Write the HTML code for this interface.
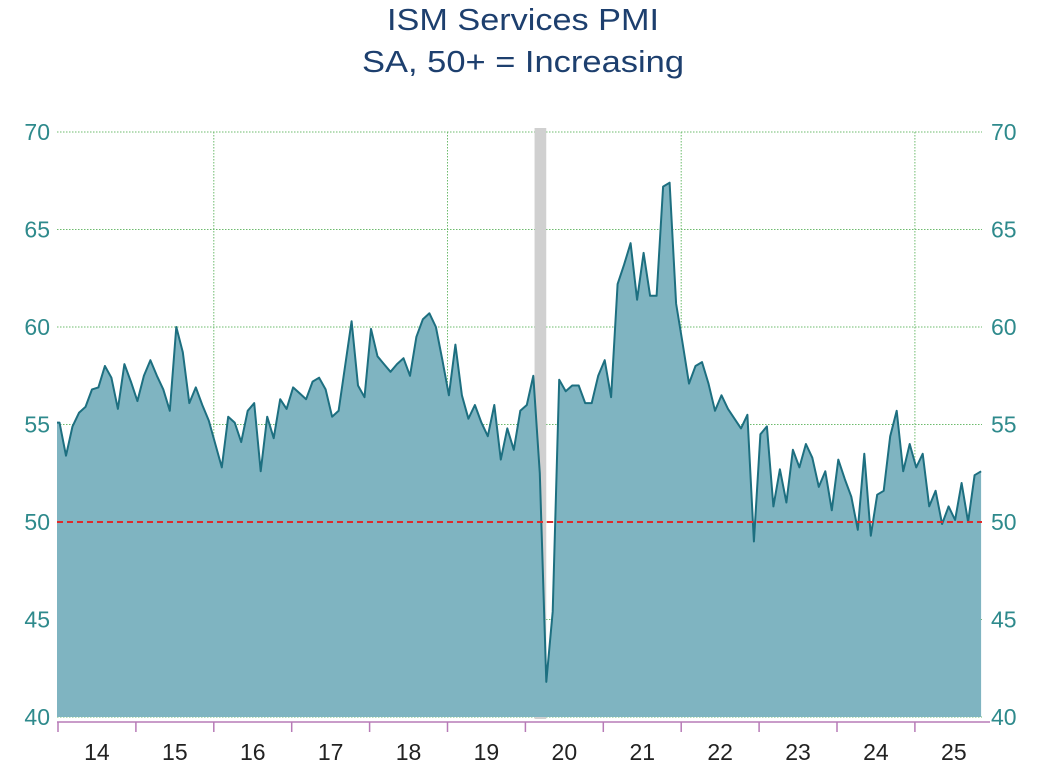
<!DOCTYPE html>
<html><head><meta charset="utf-8"><style>
html,body{margin:0;padding:0;background:#fff;}
svg{display:block;}
</style></head><body>
<svg id="chart" width="1053" height="777" viewBox="0 0 1053 777" xmlns="http://www.w3.org/2000/svg" font-family="'Liberation Sans Narrow','Liberation Sans',sans-serif">
<text x="523" y="30" text-anchor="middle" font-size="31" fill="#1d3f6e" textLength="272" lengthAdjust="spacingAndGlyphs">ISM Services PMI</text>
<text x="523" y="72" text-anchor="middle" font-size="31" fill="#1d3f6e" textLength="322" lengthAdjust="spacingAndGlyphs">SA, 50+ = Increasing</text>
<g id="grid"></g>
<g id="recession"></g>
<g id="series"></g>
<g id="axes"></g>
</svg>
<script>
const yTicks = [40, 45, 50, 55, 60, 65, 70];
const years = ["14","15","16","17","18","19","20","21","22","23","24","25"];
const gridYears = [2, 5, 8, 11];
const recession = [73.2, 75.0];
const threshold = 50;
const pmi = [55.1,53.4,54.9,55.6,55.9,56.8,56.9,58.0,57.4,55.8,58.1,57.2,
56.2,57.5,58.3,57.5,56.8,55.7,60.0,58.7,56.1,56.9,56.0,55.2,
54.0,52.8,55.4,55.1,54.1,55.7,56.1,52.6,55.4,54.3,56.3,55.8,
56.9,56.6,56.3,57.2,57.4,56.8,55.4,55.7,58.0,60.3,57.0,56.4,
59.9,58.5,58.1,57.7,58.1,58.4,57.5,59.5,60.4,60.7,60.0,58.3,
56.5,59.1,56.5,55.3,56.0,55.1,54.4,56.0,53.2,54.8,53.7,55.7,
56.0,57.5,52.5,41.8,45.4,57.3,56.7,57.0,57.0,56.1,56.1,57.5,
58.3,56.4,62.2,63.2,64.3,61.4,63.8,61.6,61.6,67.2,67.4,61.2,
59.2,57.1,58.0,58.2,57.1,55.7,56.5,55.8,55.3,54.8,55.5,49.0,
54.5,54.9,50.8,52.7,51.0,53.7,52.8,54.0,53.3,51.8,52.6,50.6,
53.2,52.2,51.3,49.6,53.5,49.3,51.4,51.6,54.4,55.7,52.6,54.0,
52.8,53.5,50.8,51.6,49.9,50.8,50.1,52.0,50.0,52.4,52.6];

const NS='http://www.w3.org/2000/svg';
const L=57, R=982, T=132, B=717;
const mx0=59.5, mw=6.49;
const yr0=58, yw=77.9;
function xs(i){return mx0+i*mw;}
function ys(v){return B-(v-40)*(B-T)/30;}
function yx(k){return yr0+k*yw;}
function mk(tag,attrs,parent){const e=document.createElementNS(NS,tag);for(const k in attrs)e.setAttribute(k,attrs[k]);parent.appendChild(e);return e;}
const grid=document.getElementById('grid'),rec=document.getElementById('recession'),ser=document.getElementById('series'),ax=document.getElementById('axes');

yTicks.forEach(v=>{
  const ln=mk('line',{x1:L,x2:R,y1:ys(v),y2:ys(v),stroke:'#6dbb6d','stroke-width':1,'stroke-dasharray':'1.5 1.5'},grid);
  
  
  const tl=mk('text',{x:50,y:ys(v)+8,'text-anchor':'end','font-size':23,fill:'#2e8a8c'},ax);
  tl.textContent=v;
  
  
  const tr=mk('text',{x:991,y:ys(v)+8,'text-anchor':'start','font-size':23,fill:'#2e8a8c'},ax);
  tr.textContent=v;
  
  
});
gridYears.forEach(k=>{
  const g=mk('line',{x1:yx(k),x2:yx(k),y1:T,y2:B,stroke:'#6dbb6d','stroke-width':1,'stroke-dasharray':'1.5 1.5'},grid);
  
  
});

const rr=mk('rect',{x:xs(recession[0]),y:T-4,width:xs(recession[1])-xs(recession[0]),height:B-T+6,fill:'#d0d0d0'},rec);



let pts=pmi.map((v,i)=>xs(i).toFixed(1)+','+ys(v).toFixed(1));
const area=mk('polygon',{points:L+','+B+' '+L+','+ys(pmi[0]).toFixed(1)+' '+pts.join(' ')+' '+xs(pmi.length-1).toFixed(1)+','+B,fill:'#7fb4c1'},ser);


const line=mk('polyline',{points:L+','+ys(pmi[0]).toFixed(1)+' '+pts.join(' '),fill:'none',stroke:'#1d6f80','stroke-width':2,'stroke-linejoin':'round'},ser);



const th=mk('line',{x1:L,x2:R,y1:ys(threshold),y2:ys(threshold),stroke:'#e02a2a','stroke-width':2,'stroke-dasharray':'6 4'},ser);



const axl=mk('line',{x1:L,x2:R+8,y1:722,y2:722,stroke:'#b77bb7','stroke-width':1.5},ax);


for(let k=0;k<=years.length;k++){
  const xt=yx(k); if(xt>R+10) continue;
  const t=mk('line',{x1:xt,x2:xt,y1:722,y2:732,stroke:'#b77bb7','stroke-width':1.5},ax);
  
  
}
years.forEach((y,k)=>{
  const t=mk('text',{x:yx(k)+yw/2,y:760,'text-anchor':'middle','font-size':23,fill:'#222'},ax);
  t.textContent=y;
  
  
});
</script>
</body></html>
